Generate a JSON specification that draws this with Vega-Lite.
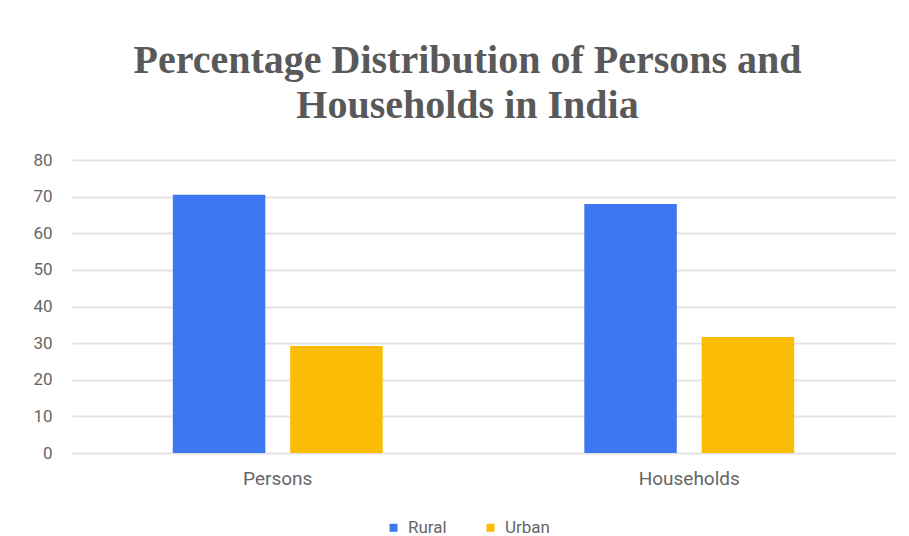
{
  "$schema": "https://vega.github.io/schema/vega-lite/v6.json",
  "autosize": "none",
  "width": 823,
  "height": 293,
  "padding": {"left": 72, "top": 160, "right": 14, "bottom": 83},
  "background": "white",
  "title": {
    "text": ["Percentage Distribution of Persons and", "Households in India"],
    "font": "Liberation Serif",
    "fontSize": 40,
    "fontWeight": "bold",
    "color": "#595959",
    "lineHeight": 45,
    "offset": 25,
    "anchor": "middle",
    "dx": -16
  },
  "data": {
    "values": [
      {"category": "Persons", "area": "Rural", "value": 70.5},
      {"category": "Persons", "area": "Urban", "value": 29.2},
      {"category": "Households", "area": "Rural", "value": 68.0},
      {"category": "Households", "area": "Urban", "value": 31.7}
    ]
  },
  "mark": {"type": "bar"},
  "encoding": {
    "x": {
      "field": "category",
      "type": "nominal",
      "sort": ["Persons", "Households"],
      "scale": {"paddingInner": 0.49, "paddingOuter": 0.245},
      "axis": {
        "title": null,
        "labelAngle": 0,
        "labelFont": "Roboto",
        "labelFontSize": 19,
        "labelColor": "#666666",
        "labelPadding": 16,
        "ticks": false,
        "domain": false
      }
    },
    "xOffset": {
      "field": "area",
      "type": "nominal",
      "scale": {"paddingInner": 0.212, "paddingOuter": 0}
    },
    "y": {
      "field": "value",
      "type": "quantitative",
      "scale": {"domain": [0, 80]},
      "axis": {
        "title": null,
        "values": [0, 10, 20, 30, 40, 50, 60, 70, 80],
        "labelFont": "Roboto",
        "labelFontSize": 17,
        "labelColor": "#666666",
        "labelPadding": 20,
        "ticks": false,
        "domain": false,
        "gridColor": "#e3e3e3",
        "gridWidth": 2
      }
    },
    "color": {
      "field": "area",
      "type": "nominal",
      "scale": {"domain": ["Rural", "Urban"], "range": ["#3d78f2", "#fbbc04"]},
      "legend": {
        "title": null,
        "orient": "none",
        "direction": "horizontal",
        "legendX": 313,
        "legendY": 359,
        "symbolType": "square",
        "symbolSize": 64,
        "labelFont": "Roboto",
        "labelFontSize": 17,
        "labelColor": "#666666",
        "columnPadding": 35,
        "labelOffset": 6
      }
    }
  },
  "config": {"view": {"stroke": null}}
}
